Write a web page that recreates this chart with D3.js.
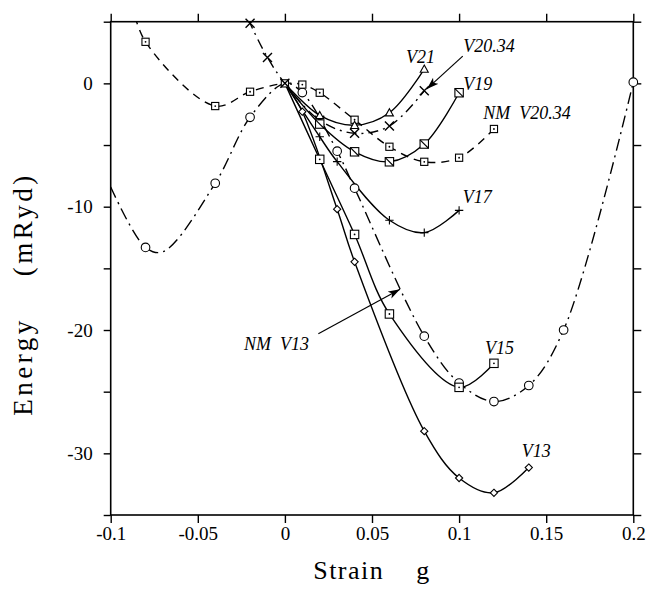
<!DOCTYPE html>
<html>
<head>
<meta charset="utf-8">
<script src="https://cdn.jsdelivr.net/npm/d3@7"></script>
<style>
  body { margin: 0; background: #fff; }
</style>
</head>
<body>
<svg id="chart" width="651" height="589"></svg>
<script>
// ------------------------------
// Data (strain g, energy mRyd), M = 1 where a symbol is drawn
// ------------------------------
const X_TICKS = [-0.1, -0.05, 0, 0.05, 0.1, 0.15, 0.2];
const Y_TICKS = [-35, -30, -25, -20, -15, -10, -5, 0, 5];

const v21G = [0, 0.02, 0.04, 0.06, 0.08];
const v21E = [0, -2.6, -3.4, -2.38, 1.16];
const v21M = [0, 1, 1, 1, 1];

const v2034G = [-0.026, -0.02, -0.01, 0, 0.02, 0.04, 0.06, 0.08];
const v2034E = [6.8, 4.87, 2.1, 0, -3.0, -4.05, -3.46, -0.6];
const v2034M = [0, 1, 1, 1, 1, 1, 1, 1];

const v19G = [0, 0.02, 0.04, 0.06, 0.08, 0.1];
const v19E = [0, -3.3, -5.55, -6.36, -4.92, -0.76];
const v19M = [0, 1, 1, 1, 1, 1];

const nmV2034G = [-0.088, -0.08, -0.04, -0.02, 0, 0.01, 0.02, 0.04, 0.06, 0.08, 0.1, 0.12];
const nmV2034E = [6.5, 3.37, -1.84, -0.68, 0, -0.1, -0.76, -2.95, -5.14, -6.36, -6.03, -3.7];
const nmV2034M = [0, 1, 1, 1, 1, 1, 1, 1, 1, 1, 1, 1];

const v17G = [0, 0.02, 0.03, 0.06, 0.08, 0.1];
const v17E = [0, -4.33, -6.35, -11.1, -12.1, -10.3];
const v17M = [0, 1, 1, 1, 1, 1];

const v15G = [0, 0.02, 0.04, 0.06, 0.1, 0.12];
const v15E = [0, -6.16, -12.25, -18.7, -24.65, -22.7];
const v15M = [0, 1, 1, 1, 1, 1];

const v13G = [0, 0.01, 0.03, 0.04, 0.08, 0.1, 0.12, 0.14];
const v13E = [0, -2.3, -10.2, -14.47, -28.2, -32.0, -33.2, -31.15];
const v13M = [0, 1, 1, 1, 1, 1, 1, 1];

const nmV13G = [-0.1, -0.08, -0.07, -0.04, -0.02, 0, 0.01, 0.03, 0.04, 0.08, 0.1, 0.12, 0.14, 0.16, 0.2];
const nmV13E = [-8.4, -13.3, -13.65, -8.1, -2.75, 0, -0.75, -5.5, -8.5, -20.5, -24.3, -25.8, -24.5, -20.0, 0.1];
const nmV13M = [0, 1, 0, 1, 1, 0, 1, 1, 1, 1, 1, 1, 1, 1, 1];

// label text, anchor position in data units
const LABELS = [
  { text: "V21",        g: 0.0695, e: 1.65 },
  { text: "V20.34",     g: 0.1024, e: 2.54 },
  { text: "V19",        g: 0.1024, e: -0.54 },
  { text: "NM  V20.34", g: 0.1139, e: -2.9 },
  { text: "V17",        g: 0.1021, e: -9.71 },
  { text: "V15",        g: 0.1149, e: -21.95 },
  { text: "V13",        g: 0.136,  e: -30.3 },
  { text: "NM  V13",    g: -0.0235, e: -21.63 }
];

// arrows: from [g,e] to [g,e]
const ARROWS = [
  { from: [0.1021, 2.21], to: [0.0815, -0.45] },
  { from: [0.0192, -20.3], to: [0.0661, -16.7] }
];

function toPts(G, E, M) {
  return G.map((g, i) => ({ g, e: E[i], m: M[i] }));
}

const series = [
  { pts: toPts(nmV13G, nmV13E, nmV13M), dash: "12,5,2,5", sym: "circle" },
  { pts: toPts(nmV2034G, nmV2034E, nmV2034M), dash: "8,6", sym: "squareDotSmall" },
  { pts: toPts(v2034G, v2034E, v2034M), dash: "10,5,2,5", sym: "cross" },
  { pts: toPts(v21G, v21E, v21M), dash: null, sym: "triangle" },
  { pts: toPts(v19G, v19E, v19M), dash: null, sym: "squareSlash" },
  { pts: toPts(v17G, v17E, v17M), dash: null, sym: "plus" },
  { pts: toPts(v15G, v15E, v15M), dash: null, sym: "squareDot" },
  { pts: toPts(v13G, v13E, v13M), dash: null, sym: "diamond" }
];

// ------------------------------
// Layout
// ------------------------------
const svg = d3.select("#chart");
const FONT = '"Liberation Serif"';

const x = d3.scaleLinear().domain([-0.1, 0.2]).range([110.7, 633.3]);
const y = d3.scaleLinear().domain([-35, 5]).range([515, 21.7]);

svg.append("rect").attr("width", 651).attr("height", 589).attr("fill", "#fff");

const defs = svg.append("defs");
defs.append("clipPath").attr("id", "plot-clip")
  .append("rect")
  .attr("x", x(-0.1)).attr("y", y(5))
  .attr("width", x(0.2) - x(-0.1)).attr("height", y(-35) - y(5));

defs.append("marker")
  .attr("id", "arrowhead")
  .attr("markerUnits", "userSpaceOnUse")
  .attr("markerWidth", 14).attr("markerHeight", 10)
  .attr("refX", 12).attr("refY", 4)
  .attr("orient", "auto")
  .append("path")
  .attr("d", "M0,0 L12,4 L0,8 L3,4 Z")
  .attr("fill", "#000");

// axes (ticks outside on all four sides)
function styleAxis(g) {
  g.select(".domain").remove();
  g.attr("font-family", null).attr("font-size", null);
  g.selectAll("line").attr("stroke", "#000").attr("stroke-width", 1.4);
  g.selectAll("text")
    .attr("fill", "#000")
    .style("font-family", FONT)
    .style("font-size", "19px");
}

svg.append("g")
  .attr("transform", `translate(0,${y(-35)})`)
  .call(d3.axisBottom(x).tickValues(X_TICKS).tickFormat(d => String(d))
    .tickSize(8).tickSizeOuter(0).tickPadding(4))
  .call(styleAxis);

svg.append("g")
  .attr("transform", `translate(0,${y(5)})`)
  .call(d3.axisTop(x).tickValues(X_TICKS).tickFormat("").tickSize(8).tickSizeOuter(0))
  .call(styleAxis);

svg.append("g")
  .attr("transform", `translate(${x(-0.1)},0)`)
  .call(d3.axisLeft(y).tickValues(Y_TICKS)
    .tickFormat(d => (d % 10 === 0 ? String(d) : ""))
    .tickSize(7).tickSizeOuter(0).tickPadding(11))
  .call(styleAxis);

svg.append("g")
  .attr("transform", `translate(${x(0.2)},0)`)
  .call(d3.axisRight(y).tickValues(Y_TICKS).tickFormat("").tickSize(8).tickSizeOuter(0))
  .call(styleAxis);

// frame
svg.append("rect")
  .attr("x", x(-0.1)).attr("y", y(5))
  .attr("width", x(0.2) - x(-0.1)).attr("height", y(-35) - y(5))
  .attr("fill", "none").attr("stroke", "#000").attr("stroke-width", 1.6);

// axis titles
svg.append("text")
  .attr("x", (x(-0.1) + x(0.2)) / 2)
  .attr("y", 579)
  .attr("text-anchor", "middle")
  .style("font-family", FONT)
  .style("font-size", "26px")
  .style("letter-spacing", "1.5px")
  .style("white-space", "pre")
  .text("Strain    g");

svg.append("text")
  .attr("transform", "translate(32,294) rotate(-90)")
  .attr("text-anchor", "middle")
  .style("font-family", FONT)
  .style("font-size", "27px")
  .style("letter-spacing", "3.5px")
  .style("white-space", "pre")
  .text("Energy    (mRyd)");

// ------------------------------
// Curves
// ------------------------------
const line = d3.line()
  .x(d => x(d.g))
  .y(d => y(d.e))
  .curve(d3.curveCatmullRom.alpha(0.5));

const plot = svg.append("g").attr("clip-path", "url(#plot-clip)");

series.forEach(s => {
  plot.append("path")
    .datum(s.pts)
    .attr("d", line)
    .attr("fill", "none")
    .attr("stroke", "#000")
    .attr("stroke-width", 1.4)
    .attr("stroke-dasharray", s.dash);
});

// ------------------------------
// Symbols
// ------------------------------
function drawSymbol(g, sym, cx, cy) {
  const st = sel => sel.attr("stroke", "#000").attr("stroke-width", 1.1);
  if (sym === "circle") {
    st(g.append("circle").attr("cx", cx).attr("cy", cy).attr("r", 4.3).attr("fill", "#fff"));
  } else if (sym === "squareDot" || sym === "squareDotSmall" || sym === "squareSlash") {
    const h = sym === "squareDotSmall" ? 3.6 : 4.2;
    st(g.append("rect").attr("x", cx - h).attr("y", cy - h)
      .attr("width", 2 * h).attr("height", 2 * h).attr("fill", "#fff"));
    if (sym === "squareSlash") {
      st(g.append("path").attr("d", `M${cx - h},${cy - h}L${cx + h},${cy + h}`));
    } else {
      g.append("circle").attr("cx", cx).attr("cy", cy).attr("r", 0.9).attr("fill", "#000");
    }
  } else if (sym === "diamond") {
    const h = 3.6;
    st(g.append("path")
      .attr("d", `M${cx},${cy - h}L${cx + h},${cy}L${cx},${cy + h}L${cx - h},${cy}Z`)
      .attr("fill", "#fff"));
  } else if (sym === "triangle") {
    const h = 4;
    st(g.append("path")
      .attr("d", `M${cx},${cy - h}L${cx + h},${cy + h * 0.8}L${cx - h},${cy + h * 0.8}Z`)
      .attr("fill", "#fff"));
  } else if (sym === "cross") {
    const h = 4.5;
    st(g.append("path")
      .attr("d", `M${cx - h},${cy - h}L${cx + h},${cy + h}M${cx - h},${cy + h}L${cx + h},${cy - h}`))
      .attr("stroke-width", 1.4);
  } else if (sym === "plus") {
    const h = 4.2;
    st(g.append("path")
      .attr("d", `M${cx - h},${cy}L${cx + h},${cy}M${cx},${cy - h}L${cx},${cy + h}`));
  }
}

const symG = svg.append("g");
series.forEach(s => {
  s.pts.filter(p => p.m).forEach(p => drawSymbol(symG, s.sym, x(p.g), y(p.e)));
});

// ------------------------------
// Labels + arrows
// ------------------------------
svg.append("g")
  .selectAll("text")
  .data(LABELS)
  .enter()
  .append("text")
  .attr("x", d => x(d.g))
  .attr("y", d => y(d.e))
  .style("font-family", FONT)
  .style("font-style", "italic")
  .style("font-size", "18px")
  .style("white-space", "pre")
  .text(d => d.text);

svg.append("g")
  .selectAll("line")
  .data(ARROWS)
  .enter()
  .append("line")
  .attr("x1", d => x(d.from[0])).attr("y1", d => y(d.from[1]))
  .attr("x2", d => x(d.to[0])).attr("y2", d => y(d.to[1]))
  .attr("stroke", "#000")
  .attr("stroke-width", 1.2)
  .attr("marker-end", "url(#arrowhead)");
</script>
</body>
</html>
